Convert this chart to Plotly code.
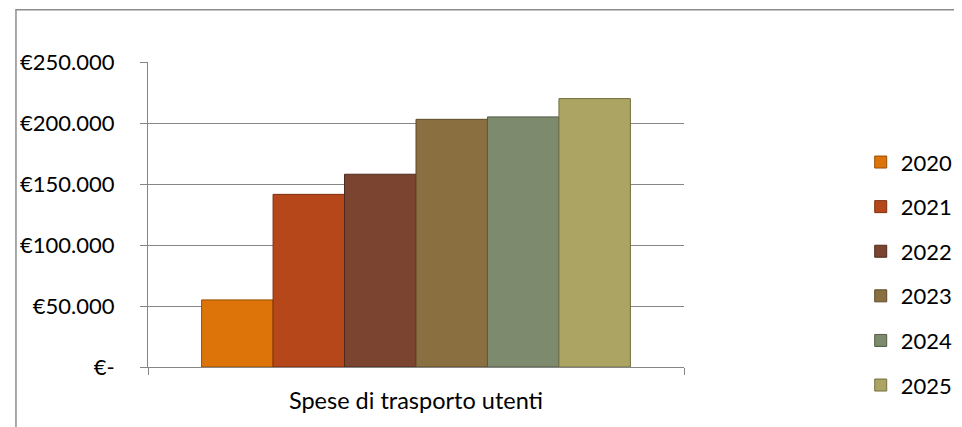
import plotly.graph_objects as go

# data
category = ["Spese di trasporto utenti"]
years = ["2020", "2021", "2022", "2023", "2024", "2025"]
spese = [55000, 141500, 158000, 203000, 205000, 220000]
bar_colors = ["#DC7409", "#B6471A", "#7B4430", "#8A6F41", "#7D8A6D", "#ABA462"]
edge_colors = ["#9A4E05", "#7E2F0E", "#4F2A1C", "#5C4A28", "#525C47", "#737040"]

tick_vals = [0, 50000, 100000, 150000, 200000, 250000]
tick_text = ["€-", "€50.000", "€100.000", "€150.000", "€200.000", "€250.000"]

W, H = 962, 427
OFF = 8  # page body margin: the figure is drawn 8px right/down
# plot area in screen pixels
L, R, T, B = 143 - OFF, 689 - OFF, 61.5 - OFF, 367.5 - OFF


def px_x(p):
    return (p - OFF - L) / (R - L)


def px_y(p):
    return (B - (p - OFF)) / (B - T)


fig = go.Figure()
for yr, val, col, edge in zip(years, spese, bar_colors, edge_colors):
    fig.add_trace(go.Bar(
        x=category,
        y=[val],
        name=yr,
        legendgroup=yr,
        marker=dict(color=col, line=dict(color=edge, width=1)),
    ))

fig.update_layout(
    width=W,
    height=H,
    barmode="group",
    bargap=0.2,
    bargroupgap=0,
    plot_bgcolor="white",
    paper_bgcolor="white",
    font=dict(family="Lato, 'Open Sans', sans-serif", size=22, color="#000000"),
    margin=dict(l=L, r=W - R, t=T, b=H - B, pad=0),
    showlegend=True,
    legend=dict(
        x=px_x(869),
        y=px_y(141),
        xanchor="left",
        yanchor="top",
        tracegroupgap=13,
        font=dict(size=22),
        bgcolor="rgba(0,0,0,0)",
    ),
    xaxis=dict(
        type="category",
        showline=True,
        linecolor="#868686",
        linewidth=1,
        ticks="outside",
        tickson="boundaries",
        ticklen=7,
        tickcolor="#868686",
        ticklabelstandoff=13,
        tickfont=dict(size=23.5),
        showgrid=False,
    ),
    yaxis=dict(
        range=[0, 250000],
        tickvals=tick_vals,
        ticktext=tick_text,
        showline=True,
        linecolor="#868686",
        linewidth=1,
        ticks="outside",
        ticklen=7,
        tickcolor="#868686",
        ticklabelstandoff=21,
        showgrid=True,
        gridcolor="#868686",
        gridwidth=1,
        zeroline=False,
    ),
    shapes=[
        dict(type="rect", xref="paper", yref="paper",
             x0=px_x(8.5), x1=px_x(990), y0=px_y(450), y1=px_y(9),
             line=dict(color="#8C8C8C", width=1.5), layer="below"),
    ],
)

fig.write_html("out.html")
